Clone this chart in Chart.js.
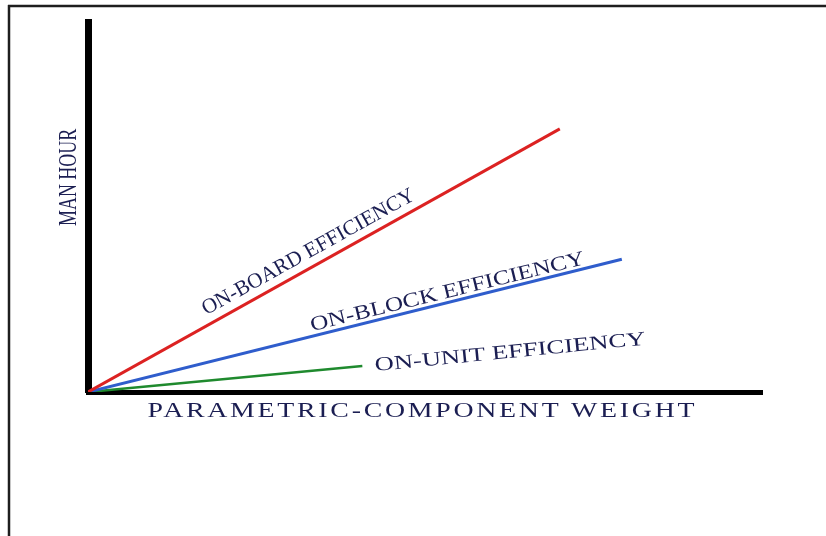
<!DOCTYPE html>
<html>
<head>
<meta charset="utf-8">
<script src="https://cdn.jsdelivr.net/npm/chart.js@4.4.1/dist/chart.umd.min.js"></script>
<style>
  html, body { margin: 0; padding: 0; background: #ffffff; }
  #wrap { position: relative; width: 826px; height: 536px; }
</style>
</head>
<body>
<div id="wrap"><canvas id="c"></canvas></div>
<script>
// ---- data (scale units 0..100 on both axes) ----
const seriesLabels = ['ON-BOARD EFFICIENCY', 'ON-BLOCK EFFICIENCY', 'ON-UNIT EFFICIENCY'];
const onBoardX = [0, 70.0];
const onBoardY = [0, 71.1];
const onBlockX = [0, 79.2];
const onBlockY = [0, 35.9];
const onUnitX  = [0, 40.7];
const onUnitY  = [0, 7.0];
const xAxisTitle = 'PARAMETRIC-COMPONENT WEIGHT';
const yAxisTitle = 'MAN HOUR';

const toPoints = (xs, ys) => xs.map((x, i) => ({ x: x, y: ys[i] }));

const TEXT_COLOR = '#1b1e52';
const FONT = '"Liberation Serif", "Times New Roman", serif';

// series label placement (centre in data units, angle in degrees, length & cap height in px)
const labelStyle = [
  { cx: 32.6, cy: 38.1, angle: -29.0, len: 240, cap: 14 },
  { cx: 53.3, cy: 27.3, angle: -13.8, len: 282, cap: 13.5 },
  { cx: 62.6, cy: 11.0, angle: -5.6,  len: 272, cap: 13 }
];

function drawFittedText(ctx, text, cx, cy, angleDeg, targetLen, capH, spacing, weight) {
  const fs = capH / 0.66;
  ctx.save();
  ctx.font = (weight || 'normal') + ' ' + fs + 'px ' + FONT;
  if ('letterSpacing' in ctx) ctx.letterSpacing = (spacing || 0) + 'px';
  const w = ctx.measureText(text).width - (spacing || 0);
  ctx.translate(cx, cy);
  ctx.rotate(angleDeg * Math.PI / 180);
  ctx.scale(targetLen / w, 1);
  ctx.textAlign = 'left';
  ctx.textBaseline = 'alphabetic';
  ctx.fillStyle = TEXT_COLOR;
  ctx.fillText(text, -w / 2, capH / 2);
  ctx.restore();
}

const framePlugin = {
  id: 'frame',
  beforeDraw(chart) {
    const ctx = chart.ctx;
    ctx.save();
    ctx.fillStyle = '#ffffff';
    ctx.fillRect(0, 0, chart.width, chart.height);
    ctx.strokeStyle = '#1e1e1e';
    ctx.lineWidth = 2.5;
    ctx.beginPath();
    ctx.moveTo(8, 6); ctx.lineTo(chart.width, 6);
    ctx.moveTo(9, 5); ctx.lineTo(9, chart.height);
    ctx.stroke();
    ctx.restore();
  }
};

const textPlugin = {
  id: 'texts',
  afterDraw(chart) {
    const ctx = chart.ctx;
    const xs = chart.scales.x, ys = chart.scales.y;
    labelStyle.forEach((s, i) => {
      drawFittedText(ctx, seriesLabels[i], xs.getPixelForValue(s.cx), ys.getPixelForValue(s.cy), s.angle, s.len, s.cap, 0);
    });
    // axis titles
    drawFittedText(ctx, xAxisTitle, (xs.left + xs.right) / 2 - 4, xs.bottom + 18, 0, 547, 13.5, 2);
    drawFittedText(ctx, yAxisTitle, ys.left - 21, ys.getPixelForValue(58), -90, 97, 17, 0);
  }
};

new Chart(document.getElementById('c'), {
  type: 'line',
  data: {
    datasets: [
      { label: seriesLabels[0], data: toPoints(onBoardX, onBoardY), borderColor: '#dc2222', borderWidth: 3 },
      { label: seriesLabels[1], data: toPoints(onBlockX, onBlockY), borderColor: '#2f5dcc', borderWidth: 3 },
      { label: seriesLabels[2], data: toPoints(onUnitX, onUnitY), borderColor: '#1f8a2e', borderWidth: 2.5 }
    ]
  },
  options: {
    responsive: true,
    maintainAspectRatio: false,
    devicePixelRatio: 1,
    animation: false,
    layout: { padding: { left: 88, top: 22, right: 64, bottom: 144 } },
    elements: { point: { radius: 0 }, line: { tension: 0, fill: false } },
    plugins: { legend: { display: false }, tooltip: { enabled: false }, title: { display: false } },
    scales: {
      x: {
        type: 'linear', min: 0, max: 100,
        ticks: { display: false },
        grid: { display: false, drawTicks: false },
        border: { display: true, color: '#000000', width: 5 },
        title: { display: false }
      },
      y: {
        type: 'linear', min: 0, max: 100,
        ticks: { display: false },
        grid: { display: false, drawTicks: false },
        border: { display: true, color: '#000000', width: 7 },
        title: { display: false }
      }
    }
  },
  plugins: [framePlugin, textPlugin]
});
</script>
</body>
</html>
